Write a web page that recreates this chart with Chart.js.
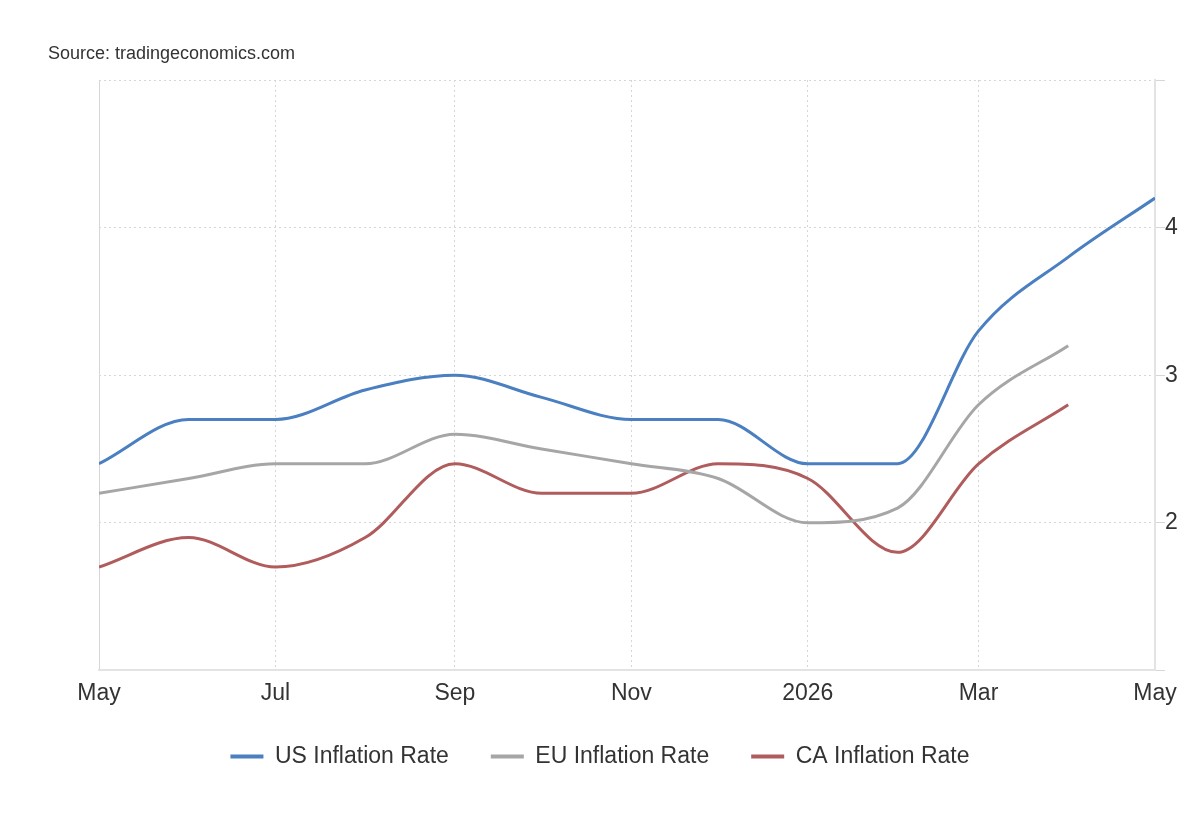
<!DOCTYPE html>
<html lang="en">
<head>
    <meta charset="UTF-8">
    <title>Inflation Rates</title>
    <script src="https://cdn.jsdelivr.net/npm/chart.js"></script>
    <style>
body {
    margin: 0;
    background: #fff;
    font-family: Arial, "Liberation Sans", sans-serif;
}
.wrap {
    position: relative;
    width: 1200px;
    height: 820px;
}
.source {
    position: absolute;
    left: 48px;
    top: 43px;
    font-size: 18px;
    color: #333;
}
    </style>
</head>
<body>
    <div class="wrap">
        <div class="source">Source: tradingeconomics.com</div>
        <canvas id="inflationChart"></canvas>
    </div>
    <script>
// monthly readings, one per month starting May 2025
const months = ['2025-05', '2025-06', '2025-07', '2025-08', '2025-09', '2025-10', '2025-11',
                '2025-12', '2026-01', '2026-02', '2026-03', '2026-04', '2026-05'];
const usRate = [2.4, 2.7, 2.7, 2.9, 3.0, 2.85, 2.7, 2.7, 2.4, 2.4, 3.3, 3.8, 4.2];
const euRate = [2.2, 2.3, 2.4, 2.4, 2.6, 2.5, 2.4, 2.3, 2.0, 2.1, 2.8, 3.2];
const caRate = [1.7, 1.9, 1.7, 1.9, 2.4, 2.2, 2.2, 2.4, 2.3, 1.8, 2.4, 2.8];

const tickMonths = ['2025-05', '2025-07', '2025-09', '2025-11', '2026-01', '2026-03', '2026-05'];
const tickLabels = ['May', 'Jul', 'Sep', 'Nov', '2026', 'Mar', 'May'];
const yTicks = [2, 3, 4];

// days since the first month, so the x axis is spaced like a calendar
function dayOf(m) {
    const [y, mo] = m.split('-').map(Number);
    const [y0, mo0] = months[0].split('-').map(Number);
    return (Date.UTC(y, mo - 1, 1) - Date.UTC(y0, mo0 - 1, 1)) / 86400000;
}
const toPoints = vals => vals.map((v, i) => ({ x: dayOf(months[i]), y: v }));
const lastDay = dayOf(months[months.length - 1]);

const gridColor = '#d6d6d6';
const axisColor = '#e3e3e3';
const textColor = '#333';
const font = { family: 'Arial, "Liberation Sans"', size: 23 };

const makeSet = (label, vals, color) => ({
    label: label,
    data: toPoints(vals),
    borderColor: color,
    backgroundColor: color,
    borderWidth: 3,
    pointRadius: 0,
    cubicInterpolationMode: 'monotone',
    fill: false
});

// pull the legend a little closer to the axis labels
const legendShift = {
    id: 'legendShift',
    afterLayout(c) {
        if (c.legend) {
            c.legend.top -= 13;
            c.legend.bottom -= 13;
        }
    }
};

const ctx = document.getElementById('inflationChart').getContext('2d');
const chart = new Chart(ctx, {
    type: 'line',
    data: {
        datasets: [
            makeSet('US Inflation Rate', usRate, '#4a7fc1'),
            makeSet('EU Inflation Rate', euRate, '#a6a6a6'),
            makeSet('CA Inflation Rate', caRate, '#b05c5c')
        ]
    },
    options: {
        responsive: true,
        maintainAspectRatio: false,
        animation: false,
        layout: { padding: { top: 80, right: 0, bottom: 29, left: 0 } },
        plugins: {
            tooltip: { enabled: false },
            legend: {
                position: 'bottom',
                labels: {
                    color: textColor,
                    font: font,
                    boxWidth: 33,
                    boxHeight: 4,
                    padding: 42,
                    generateLabels(c) {
                        return Chart.defaults.plugins.legend.labels.generateLabels(c)
                            .map(item => Object.assign(item, { lineWidth: 0 }));
                    }
                }
            }
        },
        scales: {
            x: {
                type: 'linear',
                min: 0,
                max: lastDay,
                afterBuildTicks(scale) {
                    scale.ticks = tickMonths.map(m => ({ value: dayOf(m) }));
                },
                ticks: {
                    color: textColor,
                    font: font,
                    padding: 9,
                    maxRotation: 0,
                    autoSkip: false,
                    callback: (v, i) => tickLabels[i]
                },
                grid: { color: gridColor, lineWidth: 1, drawTicks: false },
                // first line (left edge) is solid, the rest dotted
                border: {
                    display: true, color: axisColor, width: 2,
                    dash: c => (c.index === 0 ? [] : [2, 3])
                }
            },
            y: {
                position: 'right',
                min: 1,
                max: 5,
                afterBuildTicks(scale) {
                    scale.ticks = [1].concat(yTicks, [5]).map(v => ({ value: v }));
                },
                afterFit(scale) { scale.width = 45; },
                ticks: {
                    color: textColor,
                    font: font,
                    padding: 0,
                    callback: v => (yTicks.includes(v) ? String(v) : '')
                },
                grid: { color: gridColor, lineWidth: 1, tickLength: 10 },
                border: { display: true, color: axisColor, width: 2, dash: [2, 3] }
            },
            // empty left box so the plot starts where the original does
            pad: {
                position: 'left',
                display: true,
                afterFit(scale) { scale.width = 99; },
                ticks: { display: false },
                grid: { display: false },
                border: { display: false }
            }
        }
    },
    plugins: [legendShift]
});
    </script>
</body>
</html>
